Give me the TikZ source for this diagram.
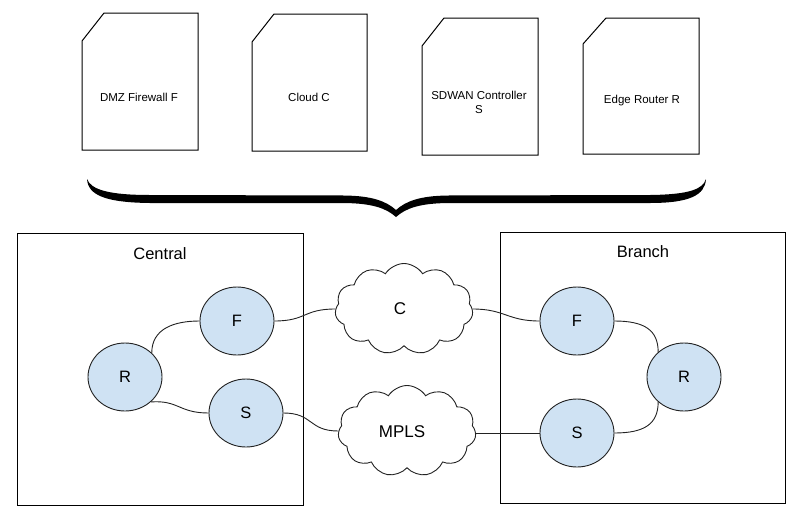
\documentclass[tikz,border=0pt]{standalone}
\usepackage{fontspec}
\setmainfont{Liberation Sans}
\usetikzlibrary{shapes.geometric,shapes.symbols}
\definecolor{nodeblue}{HTML}{CFE2F3}
\definecolor{edgegray}{HTML}{222222}
\begin{document}
\begin{tikzpicture}[x=1pt,y=-1pt,
  dev/.style={ellipse, draw=edgegray, fill=nodeblue, line width=0.9pt,
    minimum width=74pt, minimum height=68pt, inner sep=0pt,
    font=\fontsize{16.5}{19}\selectfont},
  site/.style={draw, line width=1pt},
  sitelabel/.style={font=\fontsize{16.5}{19}\selectfont, inner sep=0pt},
  netcloud/.style={cloud, cloud puffs=11, cloud puff arc=115, aspect=1.5,
    draw=edgegray, line width=0.9pt, minimum width=138pt, minimum height=91pt,
    inner sep=0pt, font=\fontsize{17}{20}\selectfont},
  doc/.style={draw, line width=1pt},
  doclabel/.style={font=\fontsize{11.5}{14}\selectfont, align=center, inner sep=0pt},
  link/.style={line width=0.9pt, edgegray},
  bracefill/.style={fill=black, draw=none}
]
\useasboundingbox (0,0) rectangle (796,520);

% ---- documents
\draw[doc] (104,13) -- (198,13) -- (198,150) -- (82,150) -- (82,41) -- cycle;
\node[doclabel] (dF) at (139,97) {DMZ Firewall F};
\draw[doc] (274,14) -- (367,14) -- (367,151) -- (252,151) -- (252,42) -- cycle;
\node[doclabel] (dC) at (309,97) {Cloud C};
\draw[doc] (444,18) -- (538,18) -- (538,155) -- (422,155) -- (422,46) -- cycle;
\node[doclabel] (dS) at (479,102) {SDWAN Controller\\S};
\draw[doc] (606,18) -- (699,18) -- (699,154) -- (583,154) -- (583,44) -- cycle;
\node[doclabel] (dR) at (642,101) {Edge Router R};

% ---- brace
\fill[bracefill] (87,179)
  .. controls (91,190) and (110,195) .. (150,195)
  -- (345,195.5)
  .. controls (372,196) and (386,201) .. (396,210)
  .. controls (406,201) and (420,196) .. (447,195.5)
  -- (650,195)
  .. controls (690,194.5) and (703,189) .. (706,179)
  .. controls (705,195) and (690,203) .. (650,203)
  -- (447,203)
  .. controls (420,203.5) and (406,208) .. (396,217)
  .. controls (386,208) and (372,203.5) .. (345,203)
  -- (150,203)
  .. controls (105,202.5) and (88,195) .. (87,179) -- cycle;

% ---- sites
\draw[site] (17,233) rectangle (303,505);
\node[sitelabel] (central) at (160,254) {Central};
\draw[site] (500,232) rectangle (785,503);
\node[sitelabel] (branch) at (643,252) {Branch};

% ---- devices
\node[dev] (cR) at (125,377) {R};
\node[dev] (cF) at (237,321) {F};
\node[dev] (cS) at (246,413) {S};
\node[dev] (bF) at (577,321) {F};
\node[dev] (bR) at (684,377) {R};
\node[dev] (bS) at (577,433) {S};

% ---- clouds
\node[netcloud] (C) at (404,309) {};
\node[font=\fontsize{17}{20}\selectfont] (Clab) at (400,309) {C};
\node[netcloud] (M) at (407,431) {};
\node[font=\fontsize{17}{20}\selectfont] (Mlab) at (402,432) {MPLS};

% ---- links
\draw[link] (cR.42) .. controls +(0,-24) and +(-26,0) .. (cF.west);
\draw[link] (cR.-44) .. controls +(28,-2) and +(-30,0) .. (cS.west);
\draw[link] (cF.east) .. controls +(32,0) and +(-32,0) .. (C.west);
\draw[link] (C.east) .. controls +(32,0) and +(-32,0) .. (bF.west);
\draw[link] (cS.east) .. controls +(30,0) and +(-30,0) .. (M.west);
\draw[link] (M.east |- bS.west) -- (bS.west);
\draw[link] (bF.east) .. controls +(30,0) and +(0,-22) .. (bR.136);
\draw[link] (bS.east) .. controls +(30,0) and +(0,22) .. (bR.224);
\end{tikzpicture}
\end{document}
